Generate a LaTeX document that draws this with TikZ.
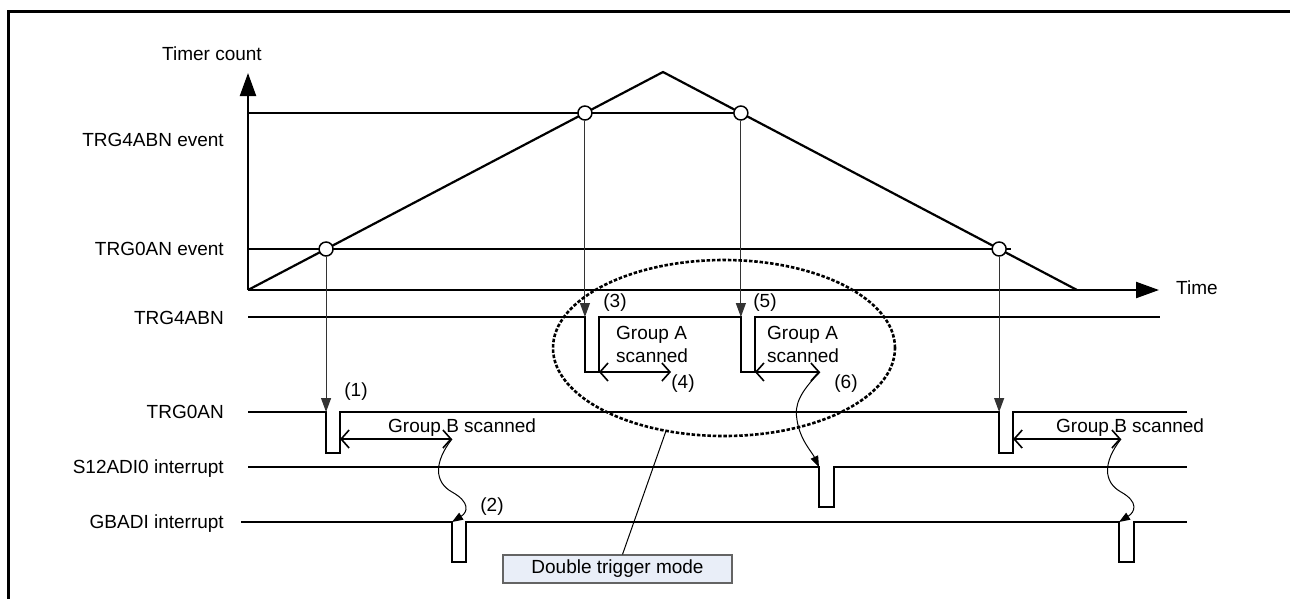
\documentclass[tikz,border=0pt]{standalone}
\usepackage{fontspec}
\setmainfont{Liberation Sans}
\usetikzlibrary{arrows.meta,calc,shapes.geometric}
\definecolor{boxfill}{RGB}{233,238,248}
\definecolor{boxline}{RGB}{100,100,100}
\begin{document}
\begin{tikzpicture}[x=1pt,y=-1pt,
  font=\fontsize{19}{23}\selectfont,
  frame/.style={line width=3pt,line join=miter},
  axis/.style={line width=2.2pt,-{Triangle[length=23pt,width=16pt]}},
  ramp/.style={line width=2.2pt,line join=miter},
  level/.style={line width=1.4pt},
  sig/.style={line width=1.8pt,line join=miter},
  drop/.style={line width=1.1pt,black!80,-{Triangle[length=14pt,width=10pt]}},
  span/.style={line width=1.6pt,{Straight Barb[length=8pt,width=18pt]}-{Straight Barb[length=8pt,width=18pt]}},
  wiggle/.style={line width=1pt,-{Triangle[length=11pt,width=8pt]}},
  hit/.style={circle,draw,fill=white,line width=1.5pt,minimum size=14pt,inner sep=0pt},
  lbl/.style={anchor=base east,inner sep=0pt},
  txt/.style={inner sep=0pt},
  ring/.style={ellipse,draw,line width=2.6pt,dash pattern=on 3.5pt off 1.8pt,minimum width=342pt,minimum height=176pt,inner sep=0pt,outer sep=0pt},
  tag/.style={draw=boxline,fill=boxfill,line width=1.2pt,minimum width=229pt,minimum height=28pt,inner sep=0pt}
]
\path[use as bounding box] (0,0) rectangle (1290,598);
% frame
\draw[frame] (8.7,600) -- (8.7,11.3) -- (1292,11.3);

% axes and ramp
\coordinate (O) at (248,290);
\coordinate (P) at (663,72);
\coordinate (E) at (1077,290);
\coordinate (yt) at (248,73);
\coordinate (xt) at (1159,290);
\coordinate (c1) at ($(O)!0.1881!(P)$);
\coordinate (c2) at ($(O)!0.8119!(P)$);
\coordinate (c3) at ($(P)!0.1881!(E)$);
\coordinate (c4) at ($(P)!0.8119!(E)$);
\draw[level] (O |- c2) -- (c3);
\draw[level] (O |- c1) -- ($(c4)+(12,0)$);
\draw[ramp] (O) -- (P) -- (E);
\draw[axis] (O) -- (yt);
\draw[axis] (O) -- (xt);

% rows
\coordinate (rA) at (0,317);
\coordinate (rB) at (0,412);
\coordinate (rS) at (0,467);
\coordinate (rG) at (0,522);

% TRG4ABN
\draw[sig] (248,317) -- (c2 |- rA) -- ++(0,55) -- ++(14,0) coordinate (a1) -- ++(0,-55)
  -- (c3 |- rA) -- ++(0,55) -- ++(14,0) coordinate (a2) -- ++(0,-55) -- (1160,317);
% TRG0AN
\draw[sig] (248,412) -- (c1 |- rB) -- ++(0,41) -- ++(14,0) coordinate (b1) -- ++(0,-41)
  -- (c4 |- rB) -- ++(0,41) -- ++(14,0) coordinate (b2) -- ++(0,-41) -- (1187,412);
% S12ADI0
\draw[sig] (248,467) -- (819,467) coordinate (s1) -- ++(0,40) -- ++(15,0) -- ++(0,-40) -- (1187,467);
% GBADI
\draw[sig] (241,522) -- (452,522) coordinate (g1) -- ++(0,40) -- ++(14,0) -- ++(0,-40)
  -- (1119,522) coordinate (g2) -- ++(0,40) -- ++(15,0) -- ++(0,-40) -- (1187,522);

% scan spans
\coordinate (eA1) at (671,372);
\coordinate (eA2) at (820,372);
\coordinate (sb1) at ($(b1)+(0,-14)$);
\coordinate (sb2) at ($(b2)+(0,-14)$);
\coordinate (eB1) at (452,439);
\coordinate (eB2) at (1121,439);
\draw[span] (a1) -- (eA1);
\draw[span] (a2) -- (eA2);
\draw[span] (sb1) -- (eB1);
\draw[span] (sb2) -- (eB2);

% wiggles
\draw[wiggle] (eB1) .. controls (434,462) and (434,482) .. (452,492) .. controls (470,502) and (468,512) .. (g1);
\draw[wiggle] (eB2) .. controls (1103,462) and (1103,482) .. (1121,492) .. controls (1139,502) and (1135,512) .. (g2);
\draw[wiggle] (eA2) .. controls (800,392) and (794,405) .. (797,420) .. controls (800,440) and (812,452) .. (s1);

% hit circles
\node[hit] (k1) at (c1) {};
\node[hit] (k2) at (c2) {};
\node[hit] (k3) at (c3) {};
\node[hit] (k4) at (c4) {};
\draw[drop] (k1) -- (k1 |- rB);
\draw[drop] (k2) -- (k2 |- rA);
\draw[drop] (k3) -- (k3 |- rA);
\draw[drop] (k4) -- (k4 |- rB);

% ellipse and tag
\node[ring] (ell) at (724,348) {};
\node[tag] (dtm) at (617.5,569) {Double trigger mode};
\draw[line width=1pt] (ell.235) -- ($(dtm.north)+(5,0)$);

% texts
\node[txt,anchor=base] (tc) at (212,60) {Timer count};
\node[txt,anchor=base west] (tm) at (1176,294) {Time};
\node[lbl] (l1) at (224,146) {TRG4ABN event};
\node[lbl] (l2) at (224,255) {TRG0AN event};
\node[lbl] (l3) at (224,324) {TRG4ABN};
\node[lbl] (l4) at (224,418) {TRG0AN};
\node[lbl] (l5) at (224,473) {S12ADI0 interrupt};
\node[lbl] (l6) at (224,528) {GBADI interrupt};
\node[txt,anchor=base west] (gb1) at (388,432) {Group B scanned};
\node[txt,anchor=base west] (gb2) at (1056,432) {Group B scanned};
\node[txt,anchor=base west] (ga1) at (616,339) {Group A};
\node[txt,anchor=base west] (ga1b) at (616,362) {scanned};
\node[txt,anchor=base west] (ga2) at (767,339) {Group A};
\node[txt,anchor=base west] (ga2b) at (767,362) {scanned};
\node[txt] (n1) at (356,392) {(1)};
\node[txt] (n2) at (492,507) {(2)};
\node[txt] (n3) at (615,303) {(3)};
\node[txt] (n4) at (683,384) {(4)};
\node[txt] (n5) at (765,303) {(5)};
\node[txt] (n6) at (846,384) {(6)};
\end{tikzpicture}
\end{document}
